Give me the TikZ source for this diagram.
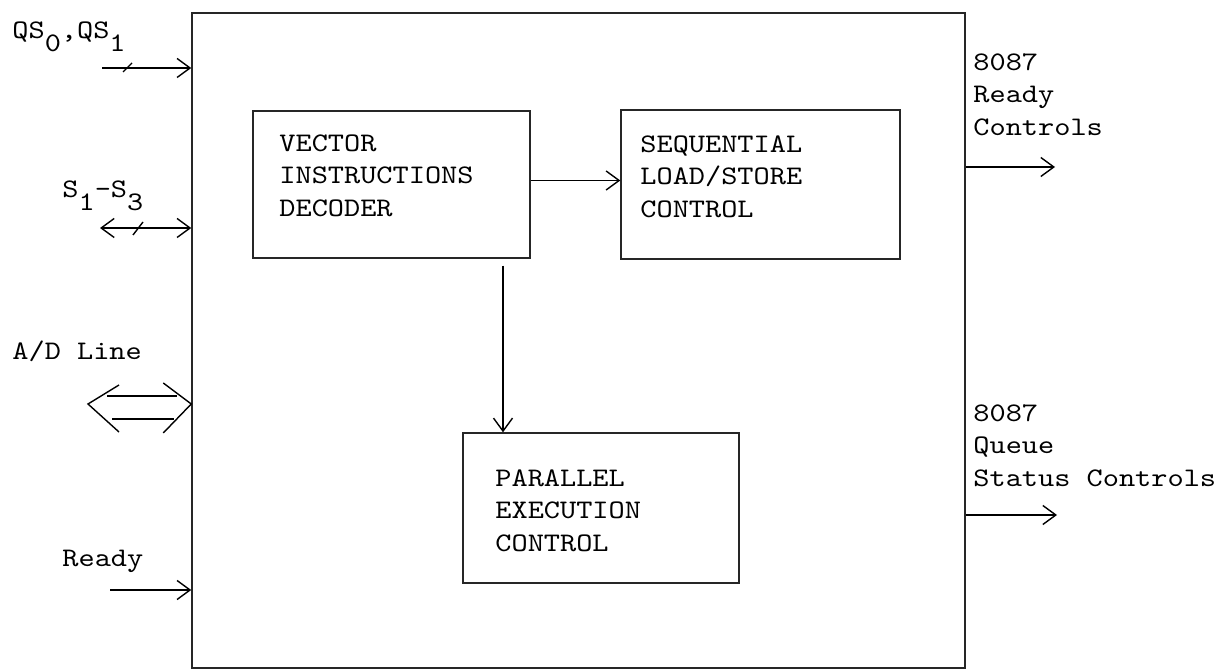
\documentclass[tikz,border=0pt]{standalone}
\usepackage{fontspec}
\newfontfamily\typer[FakeStretch=1.15]{lmmono10-regular.otf}
\usepackage{tikz}
\usetikzlibrary{arrows.meta,positioning,calc}
\newcommand{\sublow}[1]{\raisebox{-6.5pt}{#1}}
\tikzset{
  chipbox/.style={draw=black!85, line width=0.75pt, inner sep=0pt},
  blockbox/.style={draw=black!85, line width=0.7pt, inner sep=0pt},
  blocktext/.style={font=\typer\fontsize{13.4}{16.25}\selectfont, align=left, inner sep=0pt, anchor=north west},
  sig/.style={font=\typer\fontsize{13.4}{16.25}\selectfont, inner sep=0pt, anchor=base west},
  sigblock/.style={font=\typer\fontsize{13.4}{16.25}\selectfont, align=left, inner sep=0pt, anchor=north west},
  arrow/.style={-{Straight Barb[length=6.5pt,width=9.5pt]}, line width=0.7pt},
  dblarrow/.style={{Straight Barb[length=6.5pt,width=9.5pt]}-{Straight Barb[length=6.5pt,width=9.5pt]}, line width=0.7pt},
  plainline/.style={line width=0.7pt}
}
\begin{document}
\begin{tikzpicture}[x=0.5pt,y=-0.5pt]
  \useasboundingbox (0,0) rectangle (1224,672);
  % coprocessor outline and inner blocks
  \node[chipbox, minimum width=386.5pt, minimum height=327.5pt] (chip) at (578.5,340.5) {};
  \node[blockbox, minimum width=138.5pt, minimum height=73.5pt] (vid) at (391.5,184.5) {};
  \node[blockbox, minimum width=139.5pt, minimum height=74.5pt] (slsc) at (760.5,184.5) {};
  \node[blockbox, minimum width=138pt, minimum height=75pt] (pec) at (601,508) {};
  \node[blocktext] (vidtext) at (279,134) {VECTOR\\INSTRUCTIONS\\DECODER};
  \node[blocktext] (slsctext) at (640,135) {SEQUENTIAL\\LOAD/STORE\\CONTROL};
  \node[blocktext] (pectext) at (495,469) {PARALLEL\\EXECUTION\\CONTROL};
  \draw[arrow] ([yshift=2pt]vid.east) -- ([yshift=2pt]vid.east -| slsc.west);
  \draw[arrow] ([xshift=55.75pt,yshift=-3.5pt]vid.south) -- ([xshift=55.75pt]vid.south |- pec.north);

  % inputs on the left
  \node[sig] (qslabel) at (12,39) {QS\sublow{0},QS\sublow{1}};
  \node[sig] (slabel) at (62,198) {S\sublow{1}-S\sublow{3}};
  \node[sig] (adlabel) at (12,360) {A/D Line};
  \node[sig] (rdylabel) at (62,567) {Ready};
  \coordinate (qsin) at (102,68);
  \coordinate (sin) at (100,228);
  \coordinate (adl) at (88,404);
  \coordinate (adr) at (adl -| chip.west);
  \coordinate (rdyin) at (110,590);
  \draw[arrow] (qsin) -- (qsin -| chip.west);
  \draw[plainline] ([shift={(21,4)}]qsin) -- ++(9,-9);
  \draw[dblarrow] (sin) -- (sin -| chip.west);
  \draw[plainline] ([shift={(33,7)}]sin) -- ++(10,-13);
  \draw[plainline] (adl) ++(31,-19) -- (adl) -- ++(31,28);
  \draw[plainline] ([shift={(-28,-21)}]adr) -- (adr) -- ([shift={(-28,29)}]adr);
  \draw[plainline] ([shift={(19,-8)}]adl) -- ([shift={(-14,-8)}]adr);
  \draw[plainline] ([shift={(24,15)}]adl) -- ([shift={(-17,15)}]adr);
  \draw[arrow] (rdyin) -- (rdyin -| chip.west);

  % outputs on the right
  \node[sigblock] (rdyctl) at (973,53) {8087\\Ready\\Controls};
  \node[sigblock] (qsctl) at (973,404) {8087\\Queue\\Status Controls};
  \coordinate (rdyout) at (1055,167);
  \coordinate (qsout) at (1057,515);
  \draw[arrow] (rdyout -| chip.east) -- (rdyout);
  \draw[arrow] (qsout -| chip.east) -- (qsout);
\end{tikzpicture}
\end{document}
